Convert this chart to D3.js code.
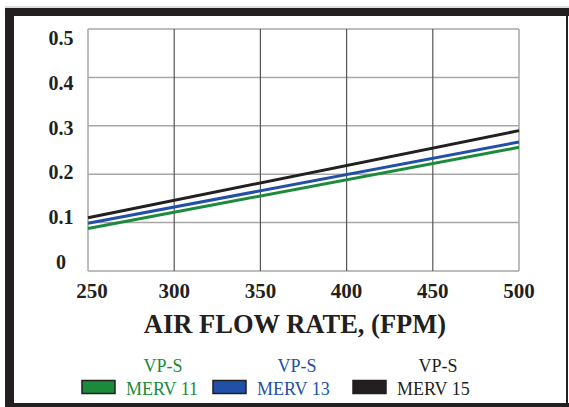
<!DOCTYPE html>
<html><head><meta charset="utf-8">
<script src="https://cdn.jsdelivr.net/npm/d3@7"></script>
<style>html,body{margin:0;padding:0;background:#fff;}svg{display:block;}</style>
</head><body>
<script>
const flowRates = [250, 500];
const merv11 = [0.088, 0.2555];
const merv13 = [0.0985, 0.2665];
const merv15 = [0.110, 0.290];
const xTicks = [250, 300, 350, 400, 450, 500];
const yTicks = [0, 0.1, 0.2, 0.3, 0.4, 0.5];
const yTickLabels = ["0", "0.1", "0.2", "0.3", "0.4", "0.5"];
const seriesNames = ["MERV 11", "MERV 13", "MERV 15"];
const seriesPrefix = "VP-S";
const xTitle = "AIR FLOW RATE, (FPM)";

const W = 569, H = 407;
const m = {l: 88, r: 519, t: 29, b: 271};
const colors = ["#1b8b3b", "#2150a8", "#231f20"];
const serif = "'Liberation Serif','Times New Roman',serif";

const svg = d3.select("body").append("svg").attr("width", W).attr("height", H);

// frame
svg.append("line").attr("x1", 5).attr("x2", 569).attr("y1", 7).attr("y2", 7).attr("stroke", "#bbb").attr("stroke-width", 1);
svg.append("rect").attr("x", 5).attr("y", 8).attr("width", 564).attr("height", 8).attr("fill", "#231f20");
svg.append("rect").attr("x", 5).attr("y", 8).attr("width", 9).attr("height", 399).attr("fill", "#231f20");
svg.append("rect").attr("x", 5).attr("y", 403).attr("width", 564).attr("height", 4).attr("fill", "#231f20");
svg.append("rect").attr("x", 566).attr("y", 8).attr("width", 2).attr("height", 399).attr("fill", "#231f20");

const x = d3.scaleLinear().domain([250, 500]).range([m.l, m.r]);
const y = d3.scaleLinear().domain([0, 0.5]).range([m.b, m.t]);
const yLab = d3.scaleLinear().domain([0, 0.5]).range([m.b - 2, m.t + 16]);

// horizontal grid
svg.append("g").selectAll("line").data(yTicks).join("line")
  .attr("x1", m.l).attr("x2", m.r)
  .attr("y1", d => y(d)).attr("y2", d => y(d))
  .attr("stroke", "#a7a7a7").attr("stroke-width", 1.5);
// vertical grid
svg.append("g").selectAll("line").data(xTicks).join("line")
  .attr("x1", d => x(d)).attr("x2", d => x(d))
  .attr("y1", m.t).attr("y2", m.b)
  .attr("stroke", d => (d === 250 || d === 500) ? "#a7a7a7" : "#555")
  .attr("stroke-width", d => (d === 250 || d === 500) ? 1.5 : 1.2);

// lines
const line = d3.line().x((d, i) => x(flowRates[i])).y(d => y(d));
[merv11, merv13, merv15].forEach((s, i) => {
  svg.append("path").datum(s).attr("d", line)
    .attr("fill", "none").attr("stroke", colors[i]).attr("stroke-width", 3);
});

// y labels
svg.append("g").selectAll("text").data(yTicks).join("text")
  .attr("x", 61).attr("y", d => yLab(d))
  .attr("text-anchor", "middle")
  .attr("font-family", serif).attr("font-weight", "bold").attr("font-size", 20)
  .attr("fill", "#231f20")
  .text((d, i) => yTickLabels[i]);

// x labels
svg.append("g").selectAll("text").data(xTicks).join("text")
  .attr("x", d => x(d) + (d === 250 ? 4 : 0)).attr("y", m.b + 27)
  .attr("text-anchor", "middle")
  .attr("font-family", serif).attr("font-weight", "bold").attr("font-size", 21)
  .attr("fill", "#231f20")
  .text(d => d);

// x title
svg.append("text").attr("x", 295).attr("y", 333)
  .attr("text-anchor", "middle")
  .attr("font-family", serif).attr("font-weight", "bold").attr("font-size", 26.5)
  .attr("fill", "#231f20")
  .text(xTitle);

// legend
const legX = [82, 213, 353];
const legCenters = [163, 297, 438];
seriesNames.forEach((n, i) => {
  const g = svg.append("g");
  g.append("text").attr("x", legCenters[i]).attr("y", 372)
    .attr("text-anchor", "middle").attr("font-family", serif).attr("font-size", 18)
    .attr("fill", colors[i]).text(seriesPrefix);
  g.append("rect").attr("x", legX[i]).attr("y", 380.5).attr("width", 33).attr("height", 13)
    .attr("fill", colors[i]).attr("stroke", "#231f20").attr("stroke-width", 1.5);
  g.append("text").attr("x", legX[i] + 44).attr("y", 395)
    .attr("font-family", serif).attr("font-size", 18)
    .attr("fill", colors[i]).text(n);
});
</script>
</body></html>
